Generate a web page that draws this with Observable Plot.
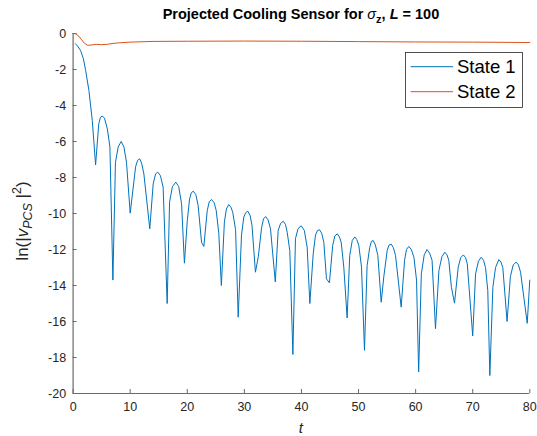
<!DOCTYPE html>
<html>
<head>
<meta charset="utf-8">
<script src="https://cdn.jsdelivr.net/npm/d3@7"></script>
<script src="https://cdn.jsdelivr.net/npm/@observablehq/plot@0.6"></script>
<style>
  html, body { margin: 0; padding: 0; background: #fff; }
  #chart svg { display: block; }
</style>
</head>
<body>
<div id="chart"></div>
<script>
// ---- data ----
const seriesNames = ["State 1", "State 2"];

const tState1 = [0.4, 0.8, 1.3, 1.8, 2.2, 2.77, 3.36, 3.94,
  4.5, 4.8, 5.1, 5.5, 6.0, 6.45, 6.97,
  7.42, 7.9, 8.42, 8.9, 9.35, 10.0,
  10.95, 11.3, 11.65, 12.0, 12.4, 13.43,
  14.03, 14.45, 14.83, 15.3, 15.77, 16.48,
  16.9, 17.4, 18.0, 18.5, 19.0, 19.5,
  20.0, 20.4, 20.7, 21.05, 21.5, 21.9, 22.5, 22.9,
  23.5, 23.85, 24.25, 24.7, 25.07, 25.52, 25.97,
  26.5, 26.85, 27.26, 27.65, 27.96, 28.46, 28.92,
  29.5, 29.9, 30.25, 30.6, 31.0, 31.34, 31.94,
  32.44, 33.03, 33.35, 33.73, 34.15, 34.58, 34.97, 35.42,
  35.92, 36.35, 36.82, 37.2, 37.5, 37.96, 38.5,
  38.95, 39.4, 39.95, 40.5, 41.0, 41.47,
  42.06, 42.46, 42.8, 43.16, 43.55, 43.92, 44.38, 44.9,
  45.47, 45.85, 46.27, 46.65, 46.96, 47.42, 48.0,
  48.46, 48.9, 49.35, 49.7, 50.05, 50.52, 51.04,
  51.5, 51.95, 52.25, 52.57, 52.95, 53.38, 53.97,
  54.43, 55.02, 55.35, 55.72, 56.1, 56.48, 57.47,
  58.06, 58.4, 58.8, 59.25, 59.7, 60.16, 60.53,
  61.0, 61.5, 61.99, 62.45, 62.88, 63.48,
  64.08, 64.6, 65.11, 65.5, 65.81, 66.27, 66.81,
  67.46, 67.9, 68.36, 68.75, 69.05, 70.0,
  70.5, 71.0, 71.49, 71.9, 72.24, 72.64, 73.0,
  73.53, 74.0, 74.57, 74.95, 75.27, 76.02,
  76.6, 77.1, 77.6, 78.0, 78.38, 79.55, 80.0];
const vState1 = [-0.57, -0.7, -0.94, -1.4, -2.06, -3.17, -4.83, -7.3,
  -5.0, -4.65, -4.59, -4.7, -5.3, -6.3, -13.7,
  -7.15, -6.3, -6.0, -6.3, -7.15, -9.98,
  -7.4, -7.05, -6.96, -7.2, -7.8, -10.85,
  -8.35, -7.8, -7.7, -7.9, -8.54, -15.0,
  -9.37, -8.5, -8.26, -8.5, -9.46, -12.76,
  -10.4, -9.2, -8.85, -8.76, -8.95, -9.55, -11.6, -11.83,
  -9.83, -9.35, -9.22, -9.4, -9.83, -11.1, -14.0,
  -10.48, -9.75, -9.5, -9.65, -9.93, -10.9, -15.76,
  -11.2, -10.2, -9.95, -9.87, -10.1, -10.67, -13.26,
  -12.4, -10.76, -10.3, -10.17, -10.35, -10.85, -12.24, -13.8,
  -10.94, -10.55, -10.43, -10.6, -11.04, -12.06, -17.83,
  -11.4, -10.85, -10.68, -10.94, -11.87, -15.0,
  -12.24, -11.2, -10.95, -10.9, -11.1, -11.6, -13.63, -13.85,
  -11.78, -11.25, -11.13, -11.3, -11.6, -12.98, -15.8,
  -12.33, -11.5, -11.3, -11.45, -11.78, -12.98, -17.6,
  -12.9, -11.9, -11.55, -11.5, -11.75, -12.33, -14.93,
  -13.5, -12.05, -11.75, -11.7, -11.9, -12.33, -15.2,
  -12.6, -12.0, -11.83, -12.0, -12.43, -13.7, -18.8,
  -13.35, -12.3, -12.0, -12.2, -12.6, -16.4,
  -13.17, -12.4, -12.15, -12.3, -12.6, -14.1, -14.98,
  -12.98, -12.45, -12.3, -12.45, -12.8, -16.8,
  -13.35, -12.65, -12.43, -12.6, -13.0, -14.28, -19.0,
  -14.1, -13.0, -12.56, -12.7, -13.0, -16.0,
  -13.5, -12.85, -12.7, -12.85, -13.26, -16.1, -13.7];

const tState2 = [0, 0.5, 1, 1.5, 2, 2.5, 3, 4, 5, 6, 7, 8, 10, 14, 20, 30, 40, 50, 60, 70, 80];
const vState2 = [0, -0.02, -0.15, -0.35, -0.55, -0.65, -0.65, -0.6, -0.62, -0.6, -0.55, -0.52, -0.48, -0.44, -0.43, -0.42, -0.43, -0.45, -0.47, -0.48, -0.5];

const xTicks = [0, 10, 20, 30, 40, 50, 60, 70, 80];
const yTicks = [0, -2, -4, -6, -8, -10, -12, -14, -16, -18, -20];

// ---- build ----
const colors = ["#0072BD", "#D95319"];
const rows1 = tState1.map((t, i) => ({t, v: vState1[i], series: seriesNames[0]}));
const rows2 = tState2.map((t, i) => ({t, v: vState2[i], series: seriesNames[1]}));

const W = 537, H = 436;
const mL = 72.6, mR = 7.7, mT = 33, mB = 43;
const plotW = W - mL - mR, plotH = H - mT - mB;
const axisColor = "#6a6a6a";
const textColor = "#262626";
const font = "'Liberation Sans', Arial, Helvetica, sans-serif";

const chart = Plot.plot({
  width: W, height: H,
  marginLeft: mL, marginRight: mR, marginTop: mT, marginBottom: mB,
  style: {fontFamily: font, fontSize: "12.5px", color: textColor, background: "white", overflow: "visible"},
  x: {domain: [0, 80]},
  y: {domain: [-20, 0]},
  marks: [
    Plot.axisX(xTicks, {tickSize: 0, tickPadding: 9, label: null, tickFormat: d => String(d), fontSize: 12.5, fill: textColor}),
    Plot.axisY(yTicks, {tickSize: 0, tickPadding: 7, label: null, tickFormat: d => String(d), fontSize: 12.5, fill: textColor}),
    Plot.tickX(xTicks, {x: d => d, insetTop: plotH - 4, stroke: axisColor, strokeWidth: 1}),
    Plot.tickY(yTicks, {y: d => d, insetRight: plotW - 4, stroke: axisColor, strokeWidth: 1}),
    Plot.line(rows1, {x: "t", y: "v", stroke: colors[0], strokeWidth: 1}),
    Plot.line(rows2, {x: "t", y: "v", stroke: colors[1], strokeWidth: 1}),
    Plot.ruleX([0], {stroke: axisColor, strokeWidth: 1.2}),
    Plot.ruleY([-20], {stroke: axisColor, strokeWidth: 1.2})
  ]
});

document.getElementById("chart").appendChild(chart);

const svg = d3.select(chart);

// Title
const title = svg.append("text")
  .attr("x", mL + plotW / 2).attr("y", 19)
  .attr("text-anchor", "middle")
  .style("font-family", font).style("font-size", "14.5px").style("font-weight", "bold")
  .attr("fill", "#000");
title.append("tspan").text("Projected Cooling Sensor for ");
title.append("tspan").text("σ").style("font-style", "italic").style("font-weight", "normal");
title.append("tspan").text("z").attr("dy", 4).style("font-size", "11px");
title.append("tspan").text(", ").attr("dy", -4);
title.append("tspan").text("L").style("font-style", "italic");
title.append("tspan").text(" = 100");

// X label
svg.append("text")
  .attr("x", mL + plotW / 2).attr("y", 433)
  .attr("text-anchor", "middle")
  .style("font-family", font).style("font-size", "15px").style("font-style", "italic")
  .attr("fill", textColor)
  .text("t");

// Y label
const yl = svg.append("text")
  .attr("transform", "translate(28,221) rotate(-90)")
  .attr("text-anchor", "middle")
  .style("font-family", font).style("font-size", "17px")
  .attr("fill", textColor);
yl.append("tspan").text("ln(|");
yl.append("tspan").text("v").style("font-style", "italic");
yl.append("tspan").text("PCS").style("font-style", "italic").style("font-size", "12.5px").attr("dy", 4);
yl.append("tspan").text(" |").attr("dy", -4);
yl.append("tspan").text("2").style("font-size", "12.5px").attr("dy", -7);
yl.append("tspan").text(")").attr("dy", 7);

// Legend
const lg = svg.append("g");
lg.append("rect")
  .attr("x", 405.5).attr("y", 52.5).attr("width", 117).attr("height", 55)
  .attr("fill", "white").attr("stroke", textColor).attr("stroke-width", 0.8);
seriesNames.forEach((name, i) => {
  const y = 66.7 + 25 * i;
  lg.append("line").attr("x1", 410.7).attr("x2", 453).attr("y1", y).attr("y2", y)
    .attr("stroke", colors[i]).attr("stroke-width", 1);
  lg.append("text").attr("x", 457).attr("y", y).attr("dy", "0.35em")
    .attr("text-anchor", "start")
    .style("font-family", font).style("font-size", "18.5px").attr("fill", "#000")
    .text(name);
});
</script>
</body>
</html>
